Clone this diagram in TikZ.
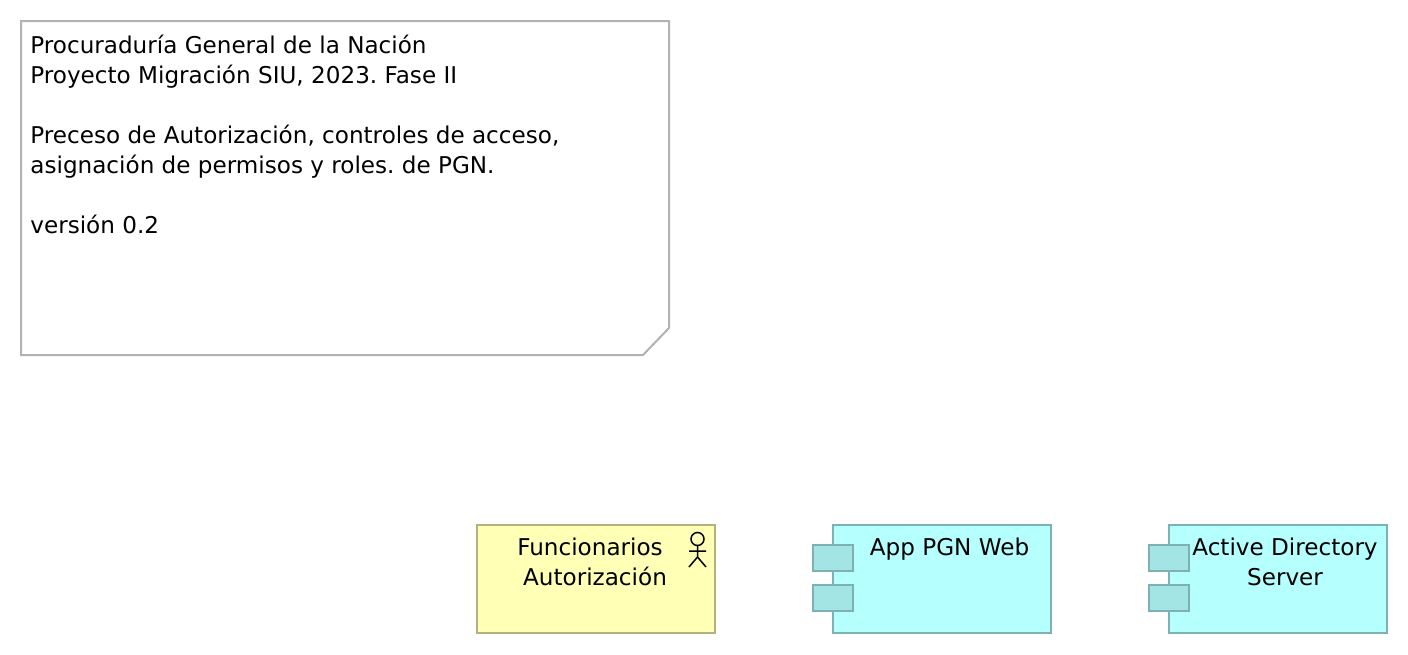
\documentclass[tikz,border=0pt]{standalone}
\usepackage{fontspec}
\setmainfont{DejaVu Sans}
\frenchspacing
\definecolor{noteline}{HTML}{B2B2B2}
\definecolor{actorfill}{HTML}{FFFFB5}
\definecolor{actorline}{HTML}{B2B27E}
\definecolor{appfill}{HTML}{B5FFFF}
\definecolor{appline}{HTML}{7EB2B2}
\definecolor{tabfill}{HTML}{A3E5E5}
\tikzset{
  x=0.5pt,y=-0.5pt,
  txt/.style={font=\fontsize{11.55pt}{15pt}\selectfont,inner sep=0pt,text=black},
  actorbox/.style={draw=actorline,fill=actorfill,line width=1pt},
  appbox/.style={draw=appline,fill=appfill,line width=1pt},
  tabbox/.style={draw=appline,fill=tabfill,line width=1pt},
  notebox/.style={draw=noteline,fill=white,line width=1pt},
  stick/.style={draw=black,line width=0.75pt}
}
\begin{document}
\begin{tikzpicture}
\useasboundingbox (0,0) rectangle (1408,654);
\fill[white] (0,0) rectangle (1408,654);
% note
\draw[notebox] (21,21) -- (669,21) -- (669,328) -- (643,355) -- (21,355) -- cycle;
\node[txt,anchor=north west,align=left] (note) at (30,35) {Procuraduría General de la Nación\\Proyecto Migración SIU, 2023. Fase II\\[15pt]Preceso de Autorización, controles de acceso,\\asignación de permisos y roles. de PGN.\\[15pt]versión 0.2};
% actor
\draw[actorbox] (477,525) rectangle (715,633);
\node[txt,align=center,anchor=north] (actor) at (595,538) {\hbox{Funcionarios\kern5pt}\\Autorización};
\draw[stick] (697.5,539) circle (6.5);
\draw[stick] (697.5,545.5) -- (697.5,557) (689,551) -- (706,551) (689,567) -- (697.5,557) -- (706,567);
% app
\draw[appbox] (833,525) rectangle (1051,633);
\draw[tabbox] (813,545) rectangle (853,571);
\draw[tabbox] (813,585) rectangle (853,611);
\node[txt,align=center,anchor=north] (app) at (949.5,538) {App PGN Web};
% ad
\draw[appbox] (1169,525) rectangle (1387,633);
\draw[tabbox] (1149,545) rectangle (1189,571);
\draw[tabbox] (1149,585) rectangle (1189,611);
\node[txt,align=center,anchor=north] (ad) at (1285,538) {Active Directory\\Server};
\end{tikzpicture}
\end{document}
